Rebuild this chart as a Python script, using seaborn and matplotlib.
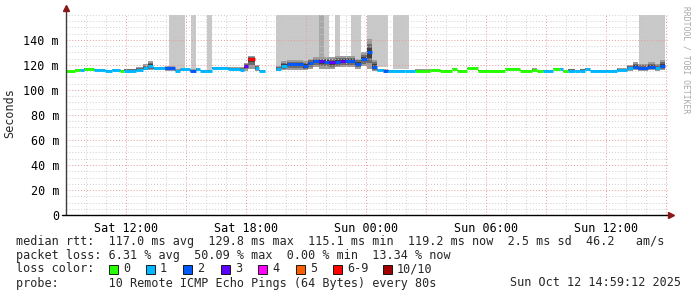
import numpy as np
import pandas as pd
import matplotlib
matplotlib.use("Agg")
import matplotlib.pyplot as plt
import seaborn as sns
from matplotlib.patches import Rectangle

# ---------------- data ----------------
# segment start times in hours after Sat 09:00
seg_t = [0.0, 0.45, 0.7, 0.9, 1.4, 1.95, 2.3, 2.7, 2.9, 3.5, 3.85, 4.1, 4.35, 4.95,
         5.45, 5.7, 6.2, 6.5, 6.7, 7.3, 8.1, 8.7, 8.9, 9.1, 9.45, 9.65, 9.95, 10.5,
         10.75, 11.05, 11.85, 12.1, 12.35, 12.65, 12.9, 13.15, 13.45, 13.7, 13.95,
         14.45, 14.75, 15.05, 15.3, 15.55, 15.85, 16.1, 16.95, 17.45, 18.2, 18.7,
         19.3, 19.55, 20.05, 20.6, 21.95, 22.7, 23.3, 23.55, 23.85, 24.35, 24.7,
         24.85, 25.1, 25.45, 25.7, 25.95, 26.2, 27.05, 27.55, 28.05, 28.35, 28.6,
         29.1, 29.45, 29.7]
t_end = 29.95
median_ms = [115.0, 116.0, 116.0, 117.0, 116.0, 115.5, 116.0, 115.5, 115.5, 116.0, 117.5,
             119.0, 117.5, 117.5, 115.5, 116.5, 115.5, 117.0, 115.5, 117.5, 117.0, 116.0,
             119.0, 125.0, 117.5, 115.5, np.nan, 117.0, 119.0, 120.5, 119.0, 121.5, 123.0,
             123.0, 122.5, 122.0, 122.5, 123.5, 123.0, 121.0, 125.0, 130.0, 118.5, 116.0,
             115.5, 115.5, 115.0, 115.5, 116.0, 115.5, 117.0, 115.5, 117.3, 115.5, 117.0,
             115.5, 116.0, 115.0, 115.5, 117.0, 117.0, 115.0, 115.5, 115.0, 115.5, 117.0,
             115.5, 115.0, 116.0, 117.5, 118.5, 117.5, 118.5, 117.5, 119.0]
loss_idx = [0, 0, 1, 0, 1, 1, 1, 0, 1, 1, 1, 1, 1, 2, 1, 1, 2, 1, 1, 1, 1, 1, 3, 6, 1, 1,
            0, 1, 1, 2, 2, 2, 2, 3, 2, 3, 2, 3, 2, 2, 2, 2, 2, 1, 2, 1, 1, 0, 0, 0, 0, 0,
            0, 0, 0, 0, 0, 0, 1, 0, 1, 0, 1, 1, 1, 1, 1, 1, 1, 1, 2, 2, 2, 1, 2]
smoke_lo = [114.5, 115.5, 115.5, 116.0, 115.5, 115.0, 115.5, 115.0, 115.0, 115.0, 116.0,
            116.0, 116.5, 115.0, 115.0, 115.5, 114.5, 116.0, 115.0, 117.0, 116.0, 115.0,
            115.5, 117.0, 115.5, 115.0, np.nan, 115.5, 116.0, 116.0, 116.0, 117.0, 118.0,
            117.0, 117.0, 117.0, 118.0, 118.0, 118.0, 117.0, 119.0, 117.0, 115.0, 115.0,
            115.0, 115.0, 114.5, 115.0, 115.5, 115.0, 116.5, 115.0, 116.8, 115.0, 116.5,
            115.0, 115.5, 114.5, 115.0, 116.5, 116.5, 114.5, 115.0, 114.5, 115.0, 116.0,
            115.0, 114.5, 115.0, 115.0, 116.0, 115.0, 116.0, 115.0, 116.0]
smoke_hi = [115.5, 116.5, 116.5, 117.5, 117.0, 116.0, 116.5, 116.0, 117.0, 118.0, 120.5,
            123.0, 118.5, 119.0, 116.5, 117.0, 116.5, 117.5, 116.0, 118.5, 118.5, 118.0,
            121.5, 127.0, 120.0, 116.0, np.nan, 119.0, 123.0, 124.0, 123.0, 125.0, 126.0,
            126.0, 126.0, 126.0, 127.0, 127.0, 127.0, 125.0, 130.0, 141.0, 124.0, 117.0,
            116.5, 116.0, 115.5, 116.5, 116.5, 116.0, 117.5, 116.0, 117.8, 116.0, 117.5,
            116.0, 117.5, 115.5, 116.0, 117.5, 117.5, 115.5, 117.0, 115.5, 117.0, 117.5,
            116.0, 116.0, 117.5, 120.0, 122.0, 121.0, 122.0, 121.0, 124.0]
# periods where the slowest pings go off the chart
spike_t0 = [5.15, 6.25, 7.05, 10.5, 12.65, 13.45, 14.25, 15.05, 16.35, 28.65]
spike_t1 = [5.95, 6.5, 7.3, 13.15, 12.9, 13.7, 14.75, 16.1, 17.15, 29.95]
spike_base = [117.0, 116.0, 116.0, 118.0, 118.0, 120.0, 120.0, 118.0, 117.0, 120.0]
spike_dark = [False, False, False, False, True, False, False, False, False, False]

loss_labels = ["0", "1", "2", "3", "4", "5", "6-9", "10/10"]
loss_colors = ["#26ff00", "#00b8ff", "#0059ff", "#5e00ff", "#ff00ff", "#ff5e00",
               "#ff0000", "#a10000"]

xtick_pos = [0, 3, 6, 9, 12, 15, 18, 21, 24, 27, 30]
xtick_labels = ["", "Sat 12:00", "", "Sat 18:00", "", "Sun 00:00", "", "Sun 06:00", "",
                "Sun 12:00", ""]
ytick_pos = [0, 20, 40, 60, 80, 100, 120, 140]
ytick_labels = ["0", "20 m", "40 m", "60 m", "80 m", "100 m", "120 m", "140 m"]

stats_rtt = "median rtt:  117.0 ms avg  129.8 ms max  115.1 ms min  119.2 ms now  2.5 ms sd  46.2   am/s"
stats_loss = "packet loss: 6.31 % avg  50.09 % max  0.00 % min  13.34 % now"
probe_text = "probe:       10 Remote ICMP Echo Pings (64 Bytes) every 80s"
stamp_text = "Sun Oct 12 14:59:12 2025"

# ---------------- style ----------------
sns.set_style("white")
plt.rcParams["font.family"] = ["DejaVu Sans Mono", "DejaVu Sans"]
FS = 8.5
W, H = 697, 297

fig = plt.figure(figsize=(W / 100, H / 100), dpi=100)
fig.patch.set_facecolor("white")
ax = fig.add_axes([66 / W, (H - 215) / H, (668 - 66) / W, 200 / H])
ax.set_facecolor("white")
x_right = (668 - 66) / 20
ax.set_xlim(0, x_right)
ax.set_ylim(0, 160)

# off-chart smoke (light grey columns)
for a, b, base, dark in zip(spike_t0, spike_t1, spike_base, spike_dark):
    ax.fill_between([a, b], base, 175, color="#a9a9a9" if dark else "#c8c8c8",
                    lw=0, zorder=1)

# smoke bands
edges = seg_t + [t_end]
layers = [(1.0, "#9c9c9c"), (0.65, "#6c6c6c"), (0.35, "#404040")]
for i in range(len(seg_t)):
    m, lo, hi = median_ms[i], smoke_lo[i], smoke_hi[i]
    if np.isnan(m):
        continue
    for frac, col in layers:
        ax.fill_between([edges[i], edges[i + 1]], m - (m - lo) * frac,
                        m + (hi - m) * frac, color=col, lw=0, zorder=1.2)

# median line coloured by loss, via seaborn
rows = []
for i in range(len(seg_t)):
    if np.isnan(median_ms[i]):
        continue
    lab = loss_labels[loss_idx[i]]
    rows.append({"t": edges[i], "ms": median_ms[i], "loss": lab, "seg": i})
    rows.append({"t": edges[i + 1], "ms": median_ms[i], "loss": lab, "seg": i})
df = pd.DataFrame(rows)
sns.lineplot(data=df, x="t", y="ms", hue="loss", units="seg", estimator=None,
             hue_order=loss_labels, palette=dict(zip(loss_labels, loss_colors)),
             legend=False, sort=False, lw=2.1, solid_capstyle="butt", ax=ax, zorder=2)

# ticks & grid
ax.set_xticks(xtick_pos)
ax.set_xticklabels(xtick_labels, fontsize=FS)
ax.set_xticks(np.arange(0, 31, 1), minor=True)
ax.set_yticks(ytick_pos)
ax.set_yticklabels(ytick_labels, fontsize=FS)
ax.set_yticks(np.arange(0, 161, 5), minor=True)
ax.set_xlabel("")
ax.set_ylabel("")
ax.set_axisbelow("line")
ax.grid(which="minor", color="#cfcfcf", ls=(0, (1, 2)), lw=0.7)
ax.grid(which="major", color="#e49a9a", ls=(0, (1, 2)), lw=0.7)
ax.tick_params(which="major", length=3, width=0.8, color="black", pad=2,
               labelcolor="black")
ax.tick_params(which="minor", length=1.5, width=0.6, color="#888888")
ax.set_xlim(0, x_right)
ax.set_ylim(0, 160)
for s in ax.spines.values():
    s.set_visible(False)

# axes lines with arrows
ax.plot([0, 0], [0, 1.03], transform=ax.transAxes, color="#3a3a3a", lw=1,
        clip_on=False, zorder=5)
ax.plot([-0.006, 1.0], [0, 0], transform=ax.transAxes, color="black", lw=1,
        clip_on=False, zorder=5)
ax.plot([0], [1.035], transform=ax.transAxes, marker="^", ms=5, color="#8b1818",
        clip_on=False, zorder=6)
ax.plot([1.005], [0], transform=ax.transAxes, marker=">", ms=5, color="#8b1818",
        clip_on=False, zorder=6)

# labels
fig.text(10 / W, 1 - 113 / H, "Seconds", rotation=90, va="center", ha="center",
         fontsize=FS)
fig.text(686 / W, 1 - 60 / H, "RRDTOOL / TOBI OETIKER", rotation=270, va="center",
         ha="center", fontsize=5.8, color="#a8a8a8")

# legend / stats
fig.text(16 / W, 1 - 241 / H, stats_rtt, va="center", ha="left", fontsize=FS)
fig.text(16 / W, 1 - 255 / H, stats_loss, va="center", ha="left", fontsize=FS)
fig.text(16 / W, 1 - 269 / H, "loss color:", va="center", ha="left", fontsize=FS)
box_x = [109, 146, 183, 221, 258, 296, 333, 383]
for bx, lab, col in zip(box_x, loss_labels, loss_colors):
    fig.patches.append(Rectangle((bx / W, 1 - 273.5 / H), 9 / W, 9 / H,
                                 transform=fig.transFigure, facecolor=col,
                                 edgecolor="black", lw=0.6))
    fig.text((bx + 14) / W, 1 - 269 / H, lab, va="center", ha="left", fontsize=FS)
fig.text(16 / W, 1 - 283 / H, probe_text, va="center", ha="left", fontsize=FS)
fig.text(681 / W, 1 - 283 / H, stamp_text, va="center", ha="right", fontsize=FS)

fig.savefig("out.png", dpi=100, facecolor="white")
